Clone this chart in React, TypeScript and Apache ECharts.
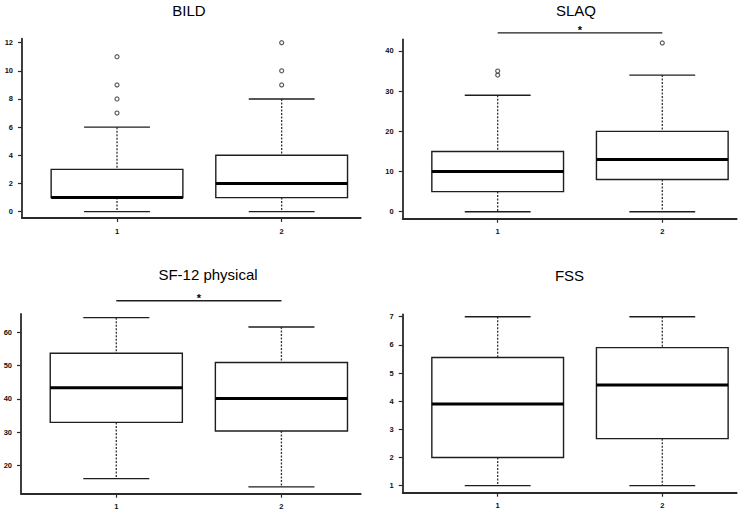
import React, { useEffect, useRef } from 'react';
import * as echarts from 'echarts';

// ---- data ----
const groupLabels = ['1', '2'];
const groupPositions = [1, 2];

// [lower whisker, Q1, median, Q3, upper whisker]
const bildStats = [[0, 1, 1, 3, 6], [0, 1, 2, 4, 8]];
const bildOutliers = [[7, 8, 9, 11], [9, 10, 12]];
const bildTicks = [0, 2, 4, 6, 8, 10, 12];

const slaqStats = [[0, 5, 10, 15, 29], [0, 8, 13, 20, 34]];
const slaqOutliers = [[34, 35], [42]];
const slaqTicks = [0, 10, 20, 30, 40];

const sf12Stats = [[16, 32.9, 43.3, 53.7, 64.4], [13.5, 30.3, 40.1, 50.9, 61.6]];
const sf12Outliers = [[], []];
const sf12Ticks = [20, 30, 40, 50, 60];

const fssStats = [[1, 2, 3.9, 5.55, 7], [1, 2.67, 4.57, 5.9, 7]];
const fssOutliers = [[], []];
const fssTicks = [1, 2, 3, 4, 5, 6, 7];

const panelTitles = ['BILD', 'SLAQ', 'SF-12 physical', 'FSS'];
// significance bars: [from group, to group, level] (null = none)
const bildSig = null;
const slaqSig = [1, 2, 44.5];
const sf12Sig = [1, 2, 69.5];
const fssSig = null;

// ---- layout (positions / styles) ----
const layouts = [
  { left: 22, top: 38.7, width: 338.7, height: 179.3, yMin: -0.45, yMax: 12.28, xMin: 0.423, xMax: 2.48, tx: 189, ty: 10 },
  { left: 402.7, top: 39.3, width: 334, height: 179.4, yMin: -1.74, yMax: 42.91, xMin: 0.423, xMax: 2.452, tx: 576, ty: 10 },
  { left: 21, top: 314, width: 339.7, height: 179.7, yMin: 11.46, yMax: 65.5, xMin: 0.423, xMax: 2.48, tx: 208, ty: 274 },
  { left: 402.7, top: 314.3, width: 334, height: 178.4, yMin: 0.75, yMax: 7.085, xMin: 0.423, xMax: 2.452, tx: 569.5, ty: 275 },
];

const FONT = '"Liberation Sans", Arial, sans-serif';
const AXIS_COLOR = '#2a2a2a';
const LINE_COLOR = '#1e1e1e';

const renderBox = (params: any, api: any) => {
  const x = api.value(0);
  const lo = api.value(1);
  const q1 = api.value(2);
  const med = api.value(3);
  const q3 = api.value(4);
  const hi = api.value(5);
  const bw = 0.4;
  const cw = 0.2;
  const tl = api.coord([x - bw, q3]);
  const br = api.coord([x + bw, q1]);
  const mL = api.coord([x - bw, med]);
  const mR = api.coord([x + bw, med]);
  const pHi = api.coord([x, hi]);
  const pQ3 = api.coord([x, q3]);
  const pQ1 = api.coord([x, q1]);
  const pLo = api.coord([x, lo]);
  const hL = api.coord([x - cw, hi]);
  const hR = api.coord([x + cw, hi]);
  const lL = api.coord([x - cw, lo]);
  const lR = api.coord([x + cw, lo]);
  const dash = { stroke: '#333', lineWidth: 1.3, lineDash: [2, 1.5] };
  const solid = { stroke: LINE_COLOR, lineWidth: 1.4 };
  return {
    type: 'group',
    children: [
      { type: 'line', shape: { x1: pHi[0], y1: pHi[1], x2: pQ3[0], y2: pQ3[1] }, style: dash },
      { type: 'line', shape: { x1: pQ1[0], y1: pQ1[1], x2: pLo[0], y2: pLo[1] }, style: dash },
      { type: 'line', shape: { x1: hL[0], y1: hL[1], x2: hR[0], y2: hR[1] }, style: solid },
      { type: 'line', shape: { x1: lL[0], y1: lL[1], x2: lR[0], y2: lR[1] }, style: solid },
      {
        type: 'rect',
        shape: { x: tl[0], y: tl[1], width: br[0] - tl[0], height: br[1] - tl[1] },
        style: { fill: '#fff', stroke: LINE_COLOR, lineWidth: 1.4 },
      },
      { type: 'line', shape: { x1: mL[0], y1: mL[1], x2: mR[0], y2: mR[1] }, style: { stroke: '#000', lineWidth: 3 } },
    ],
  };
};

const renderSig = (params: any, api: any) => {
  const a = api.coord([api.value(0), api.value(2)]);
  const b = api.coord([api.value(1), api.value(2)]);
  return {
    type: 'group',
    children: [
      { type: 'line', shape: { x1: a[0], y1: a[1], x2: b[0], y2: b[1] }, style: { stroke: LINE_COLOR, lineWidth: 1.4 } },
      {
        type: 'text',
        x: (a[0] + b[0]) / 2,
        y: a[1] - 3,
        style: { text: '*', fill: '#000', fontSize: 11, fontWeight: 'bold', fontFamily: FONT, textAlign: 'center', textVerticalAlign: 'middle' },
      },
    ],
  };
};

export default function App() {
  const ref = useRef<HTMLDivElement>(null);
  useEffect(() => {
    if (!ref.current) return;
    const chart = echarts.init(ref.current, undefined, { renderer: 'svg' });
    const statsList = [bildStats, slaqStats, sf12Stats, fssStats];
    const outList = [bildOutliers, slaqOutliers, sf12Outliers, fssOutliers];
    const tickList = [bildTicks, slaqTicks, sf12Ticks, fssTicks];
    const sigList = [bildSig, slaqSig, sf12Sig, fssSig];

    const grid: any[] = [];
    const xAxis: any[] = [];
    const yAxis: any[] = [];
    const series: any[] = [];
    const graphic: any[] = [];
    const labelStyle = { color: '#111', fontSize: 7.5, fontWeight: 'bold', fontFamily: FONT };

    layouts.forEach((L, i) => {
      grid.push({ left: L.left, top: L.top, width: L.width, height: L.height, containLabel: false, outerBoundsMode: 'none' });
      xAxis.push({
        type: 'value', gridIndex: i, min: L.xMin, max: L.xMax,
        axisLine: { show: true, onZero: false, lineStyle: { color: AXIS_COLOR, width: 1.8 } },
        axisTick: { show: true, length: 4, customValues: groupPositions, lineStyle: { color: AXIS_COLOR, width: 1.2 } },
        axisLabel: { ...labelStyle, margin: 9, customValues: groupPositions, formatter: (v: number) => groupLabels[groupPositions.indexOf(v)] ?? '' },
        splitLine: { show: false },
      });
      yAxis.push({
        type: 'value', gridIndex: i, min: L.yMin, max: L.yMax,
        axisLine: { show: true, onZero: false, lineStyle: { color: AXIS_COLOR, width: 1.8 } },
        axisTick: { show: true, length: 4, customValues: tickList[i], lineStyle: { color: AXIS_COLOR, width: 1.2 } },
        axisLabel: { ...labelStyle, margin: 9, customValues: tickList[i], formatter: (v: number) => String(v) },
        splitLine: { show: false },
      });
      series.push({
        type: 'custom', xAxisIndex: i, yAxisIndex: i,
        renderItem: renderBox,
        encode: { x: 0, y: [1, 2, 3, 4, 5] },
        data: statsList[i].map((s, k) => [groupPositions[k], ...s]),
        z: 2,
      });
      const pts: number[][] = [];
      outList[i].forEach((arr, k) => arr.forEach((v) => pts.push([groupPositions[k], v])));
      series.push({
        type: 'scatter', xAxisIndex: i, yAxisIndex: i, data: pts,
        symbol: 'circle', symbolSize: 4,
        itemStyle: { color: '#fff', borderColor: '#333', borderWidth: 1.2 },
        z: 3,
      });
      const sig = sigList[i];
      if (sig) {
        series.push({
          type: 'custom', xAxisIndex: i, yAxisIndex: i, renderItem: renderSig,
          encode: { x: [0, 1], y: 2 }, data: [sig], clip: false, z: 4,
        });
      }
      graphic.push({
        type: 'text', x: L.tx, y: L.ty,
        style: { text: panelTitles[i], fill: '#000', fontSize: 15, fontFamily: FONT, textAlign: 'center', textVerticalAlign: 'middle' },
      });
    });

    chart.setOption({
      animation: false,
      backgroundColor: '#fff',
      grid, xAxis, yAxis, series, graphic,
    });
    return () => chart.dispose();
  }, []);
  return <div ref={ref} style={{ position: 'fixed', left: 0, top: 0, width: 751, height: 514 }} />;
}
